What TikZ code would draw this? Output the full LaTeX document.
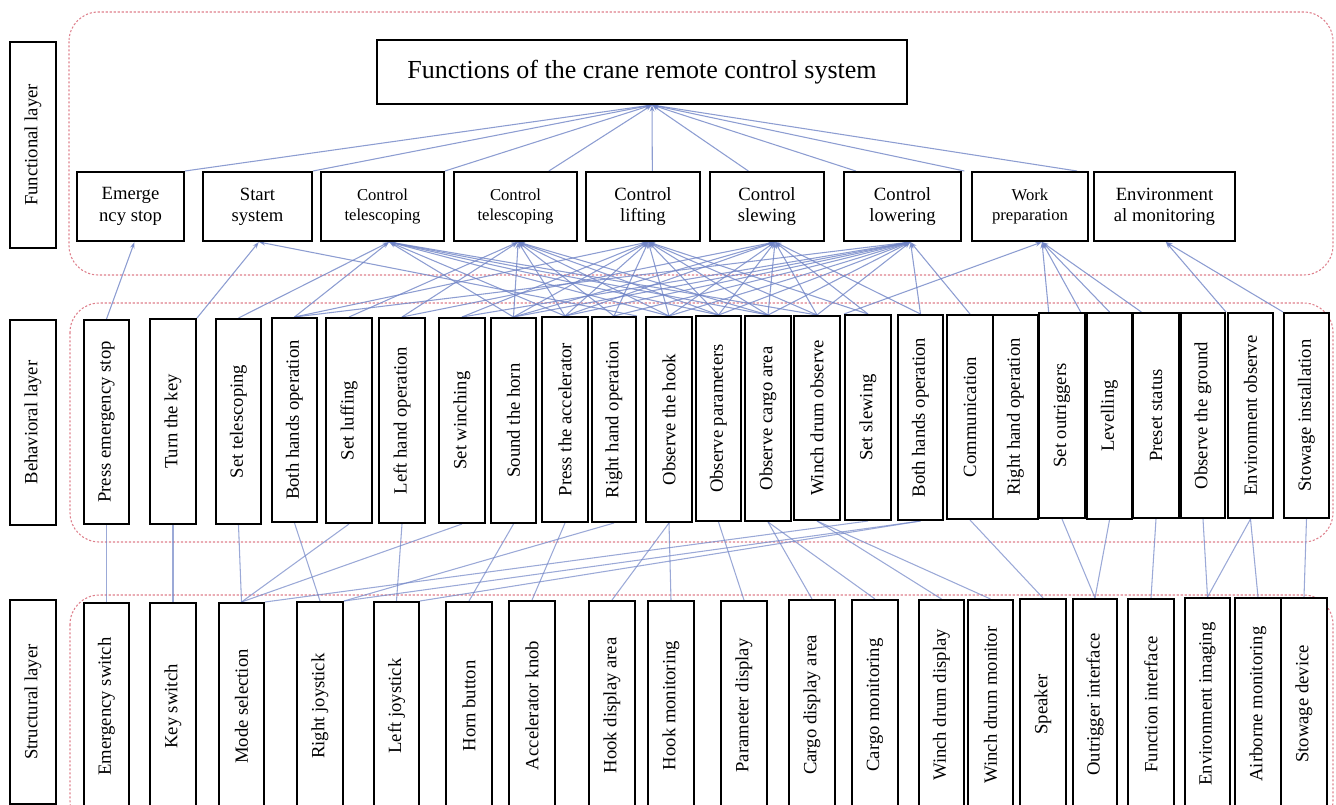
\documentclass[tikz,border=0pt]{standalone}
\usepackage{fontspec}
\setmainfont{Liberation Serif}
\usepackage{graphicx}
\usetikzlibrary{arrows.meta}
\pgfdeclarelayer{back}
\pgfdeclarelayer{lines}
\pgfsetlayers{back,lines,main}
\definecolor{conn}{RGB}{112,132,198}
\definecolor{dash}{RGB}{222,128,140}
\tikzset{
  box/.style={draw, line width=1.5pt, fill=white, inner sep=0pt, align=center},
  ft/.style={font=\fontsize{14}{16}\selectfont},
  fs/.style={font=\fontsize{12.5}{15}\selectfont},
  vt/.style={font=\fontsize{14}{16}\selectfont},
  lt/.style={font=\fontsize{14}{16}\selectfont},
  layer/.style={draw=dash, line width=0.8pt, dash pattern=on 1.6pt off 1.4pt, rounded corners=22pt},
  up/.style={draw=conn, line width=0.8pt, opacity=0.8, -{Stealth[length=5pt,width=3.5pt]}},
  link/.style={draw=conn, line width=0.8pt, opacity=0.7}
}
\newcommand\mkbox[7]{\node[box,#1,minimum width={(#4-#3)*0.75pt},minimum height={(#6-#5)*0.75pt}] (#2) at ({(#3+#4)/2},{(#5+#6)/2}) {#7};}
\newcommand\rt[1]{\rotatebox{90}{#1}}
\begin{document}
\begin{tikzpicture}[x=0.75pt,y=-0.75pt]
\clip (0,0) rectangle (1336,804);
\useasboundingbox (0,0) rectangle (1336,804);

% layer labels
\mkbox{lt}{Lf}{10}{56}{42}{248}{\rt{Functional layer}}
\mkbox{lt}{Lb}{10}{56}{320}{525}{\rt{Behavioral layer}}
\mkbox{lt}{Ls}{10}{56}{600}{804}{\rt{Structural layer}}

% top
\mkbox{font=\fontsize{19.5}{22}\selectfont}{top}{377}{907}{40}{104}{Functions of the crane remote control system}

% functional
\mkbox{ft}{f1}{77}{184}{172}{241}{Emerge\\ncy stop}
\mkbox{ft}{f2}{203}{312}{172}{241}{Start\\system}
\mkbox{fs}{f3}{321}{444}{172}{241}{Control\\telescoping}
\mkbox{fs}{f4}{454}{577}{172}{241}{Control\\telescoping}
\mkbox{ft}{f5}{586}{700}{172}{241}{Control\\lifting}
\mkbox{ft}{f6}{710}{824}{172}{241}{Control\\slewing}
\mkbox{ft}{f7}{844}{961}{172}{241}{Control\\lowering}
\mkbox{fs}{f8}{972}{1088}{172}{241}{Work\\preparation}
\mkbox{ft}{f9}{1094}{1235}{172}{241}{Environment\\al monitoring}

% behavioral
\mkbox{vt}{b1}{84}{129}{320}{524}{\rt{Press emergency stop}}
\mkbox{vt}{b2}{150}{196}{319}{524}{\rt{Turn the key}}
\mkbox{vt}{b3}{216}{261}{319}{524}{\rt{Set telescoping}}
\mkbox{vt}{b4}{272}{317}{318}{522}{\rt{Both hands operation}}
\mkbox{vt}{b5}{326}{372}{318}{523}{\rt{Set luffing}}
\mkbox{vt}{b6}{379}{425}{318}{523}{\rt{Left hand operation}}
\mkbox{vt}{b7}{439}{485}{318}{523}{\rt{Set winching}}
\mkbox{vt}{b8}{491}{536}{318}{523}{\rt{Sound the horn}}
\mkbox{vt}{b9}{542}{588}{317}{522}{\rt{Press the accelerator}}
\mkbox{vt}{b10}{592}{636}{317}{522}{\rt{Right hand operation}}
\mkbox{vt}{b11}{646}{692}{317}{522}{\rt{Observe the hook}}
\mkbox{vt}{b12}{696}{741}{316}{521}{\rt{Observe parameters}}
\mkbox{vt}{b13}{745}{791}{316}{521}{\rt{Observe cargo area}}
\mkbox{vt}{b14}{794}{840}{316}{520}{\rt{Winch drum observe}}
\mkbox{vt}{b15}{845}{891}{315}{520}{\rt{Set slewing}}
\mkbox{vt}{b16}{898}{943}{315}{520}{\rt{Both hands operation}}
\mkbox{vt}{b17}{947}{993}{315}{519}{\rt{Communication}}
\mkbox{vt}{b18}{993}{1038}{315}{519}{\rt{Right hand operation}}
\mkbox{vt}{b19}{1039}{1085}{313}{518}{\rt{Set outriggers}}
\mkbox{vt}{b20}{1087}{1132}{313}{519}{\rt{Levelling}}
\mkbox{vt}{b21}{1133}{1179}{313}{518}{\rt{Preset status}}
\mkbox{vt}{b22}{1181}{1225}{313}{518}{\rt{Observe the ground}}
\mkbox{vt}{b23}{1228}{1273}{313}{518}{\rt{Environment observe}}
\mkbox{vt}{b24}{1284}{1329}{313}{518}{\rt{Stowage installation}}

% structural
\mkbox{vt}{s1}{84}{129}{603}{810}{\rt{Emergency switch}}
\mkbox{vt}{s2}{150}{196}{603}{810}{\rt{Key switch}}
\mkbox{vt}{s3}{219}{264}{603}{810}{\rt{Mode selection}}
\mkbox{vt}{s4}{297}{343}{602}{810}{\rt{Right joystick}}
\mkbox{vt}{s5}{374}{419}{602}{810}{\rt{Left joystick}}
\mkbox{vt}{s6}{446}{492}{602}{810}{\rt{Horn button}}
\mkbox{vt}{s7}{509}{555}{601}{810}{\rt{Accelerator knob}}
\mkbox{vt}{s8}{589}{635}{601}{810}{\rt{Hook display area}}
\mkbox{vt}{s9}{648}{694}{601}{810}{\rt{Hook monitoring}}
\mkbox{vt}{s10}{721}{767}{601}{810}{\rt{Parameter display}}
\mkbox{vt}{s11}{789}{835}{600}{810}{\rt{Cargo display area}}
\mkbox{vt}{s12}{852}{898}{600}{810}{\rt{Cargo monitoring}}
\mkbox{vt}{s13}{919}{964}{600}{810}{\rt{Winch drum display}}
\mkbox{vt}{s14}{968}{1013}{600}{810}{\rt{Winch drum monitor}}
\mkbox{vt}{s15}{1020}{1066}{599}{810}{\rt{Speaker}}
\mkbox{vt}{s16}{1073}{1117}{599}{810}{\rt{Outrigger interface}}
\mkbox{vt}{s17}{1128}{1174}{599}{810}{\rt{Function interface}}
\mkbox{vt}{s18}{1185}{1230}{598}{810}{\rt{Environment imaging}}
\mkbox{vt}{s19}{1235}{1281}{598}{810}{\rt{Airborne monitoring}}
\mkbox{vt}{s20}{1281}{1327}{598}{810}{\rt{Stowage device}}

% layer frames
\begin{pgfonlayer}{back}
\draw[layer] (69,12) rectangle (1333,275);
\draw[layer] (70,303) rectangle (1333,542);
\draw[layer] (70,595) rectangle (1333,830);
\end{pgfonlayer}

% connectors
\begin{pgfonlayer}{lines}
\coordinate (c0) at ([xshift=7.5pt]top.south);
% functional -> top
\draw[up] (f1.north east) -- (c0);
\draw[up] (f2.north east) -- (c0);
\draw[up] (f3.north east) -- (c0);
\draw[up] ([xshift=25pt]f4.north) -- (c0);
\draw[up] ([xshift=7pt]f5.north) -- (c0);
\draw[up] ([xshift=-14pt]f6.north) -- (c0);
\draw[up] ([xshift=-35pt]f7.north) -- (c0);
\draw[up] ([xshift=-5pt]f8.north west) -- (c0);
\draw[up] ([xshift=-9pt]f8.north east) -- (c0);

% behavioral -> functional
\coordinate (c1) at ([xshift=3pt]f1.south);
\coordinate (c2) at ([xshift=1pt]f2.south);
\coordinate (c3) at ([xshift=5pt]f3.south);
\coordinate (c4) at ([xshift=2pt]f4.south);
\coordinate (c5) at ([xshift=4pt]f5.south);
\coordinate (c6) at ([xshift=6pt]f6.south);
\coordinate (c7) at ([xshift=6pt]f7.south);
\coordinate (c8) at ([xshift=9pt]f8.south);
\coordinate (c9) at ([xshift=1pt]f9.south);
\draw[up] (b1.north) -- (c1);
\draw[up] (b2.north east) -- (c2);
\draw[up] (b10.north east) -- (c2);
\foreach \b in {b3,b4,b8,b9,b11,b12,b13,b14} \draw[up] (\b.north) -- (c3);
\foreach \b in {b5,b6,b8,b9,b10,b11,b12,b13} \draw[up] (\b.north) -- (c4);
\foreach \b in {b4,b7,b8,b9,b10,b11,b12,b13,b14,b15} \draw[up] (\b.north) -- (c5);
\foreach \b in {b6,b8,b9,b11,b12,b13,b14,b15,b16} \draw[up] (\b.north) -- (c6);
\foreach \b in {b4,b7,b8,b9,b10,b11,b12,b13,b14,b16,b17} \draw[up] (\b.north) -- (c7);
\draw[up] (b15.north west) -- (c8);
\draw[up] ([xshift=8pt]b19.north west) -- (c8);
\draw[up] ([xshift=-4pt]b19.north east) -- (c8);
\draw[up] (b20.north) -- (c8);
\draw[up] ([xshift=7pt]b21.north west) -- (c8);
\draw[up] (b22.north east) -- (c9);
\draw[up] (b24.north west) -- (c9);

% structural -> behavioral
\draw[link] (s1.north) -- (b1.south);
\draw[link] (s2.north) -- (b2.south);
\draw[link] (s3.north) -- (b3.south);
\draw[link] (s4.north) -- (b4.south);
\draw[link] (s3.north) -- (b5.south);
\draw[link] (s5.north) -- (b6.south);
\draw[link] (s3.north) -- (b7.south);
\draw[link] (s6.north) -- (b8.south);
\draw[link] (s7.north) -- (b9.south);
\draw[link] (s4.north east) -- (b10.south);
\draw[link] (s8.north) -- (b11.south);
\draw[link] (s9.north) -- (b11.south);
\draw[link] (s10.north) -- (b12.south);
\draw[link] (s11.north) -- (b13.south);
\draw[link] (s12.north) -- (b13.south);
\draw[link] (s13.north) -- (b14.south);
\draw[link] (s14.north) -- (b14.south);
\draw[link] (s3.north east) -- (b15.south);
\draw[link] (s4.north east) -- (b16.south);
\draw[link] (s5.north east) -- (b16.south);
\draw[link] (s15.north) -- (b17.south);
\draw[link] (s16.north) -- (b19.south);
\draw[link] (s16.north) -- (b20.south);
\draw[link] (s17.north) -- (b21.south);
\draw[link] (s18.north) -- (b22.south);
\draw[link] (s18.north) -- (b23.south);
\draw[link] (s19.north) -- (b23.south);
\draw[link] (s20.north) -- (b24.south);
\end{pgfonlayer}
\end{tikzpicture}
\end{document}
